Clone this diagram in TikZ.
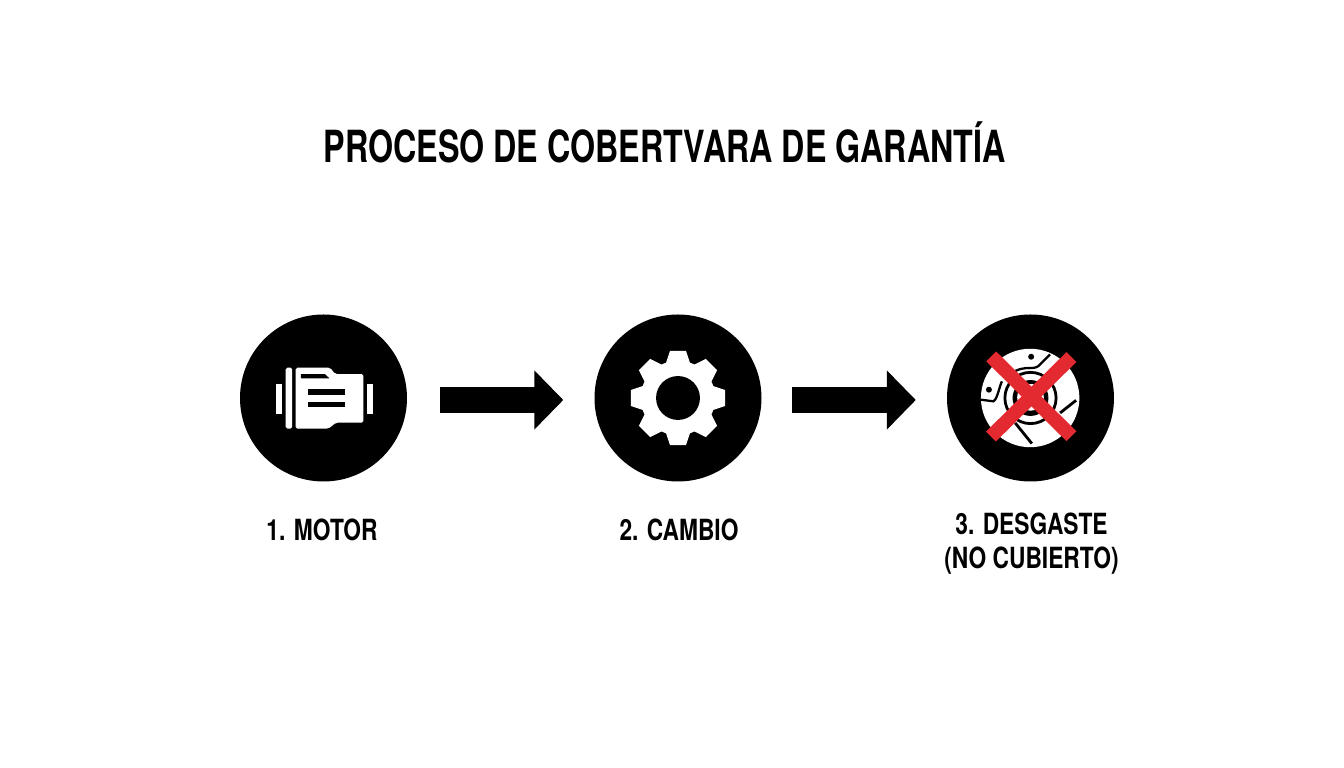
\documentclass[tikz,border=0pt]{standalone}
\usepackage{fontspec}
\usepackage{tikz}
\setmainfont{TeX Gyre Heros}
\usetikzlibrary{arrows.meta}
\definecolor{crossred}{HTML}{E32A30}
\tikzset{
  stepdisc/.style={circle,fill=black,minimum size=1.67cm,inner sep=0pt},
  steplabel/.style={font=\bfseries\fontsize{8.3}{9.7}\selectfont,align=center,xscale=0.78,transform shape},
  flowarrow/.style={line width=0.267cm,-{Triangle[length=0.29cm,width=0.575cm]}},
  icon/.style={x=0.003333cm,y=-0.003333cm}
}
\begin{document}
\begin{tikzpicture}
\useasboundingbox (0,0) rectangle (13.44,7.68);

\node[font=\bfseries\fontsize{12.6}{15}\selectfont,xscale=0.728,transform shape] (title) at (6.645,6.26) {PROCESO DE COBERTVARA DE GARANTÍA};

\node[stepdisc] (motor) at (3.235,3.70) {};
\node[stepdisc] (cambio) at (6.78,3.70) {};
\node[stepdisc] (desgaste) at (10.305,3.70) {};

\draw[flowarrow,shorten <=0.32cm,shorten >=0.305cm] ([yshift=-0.02cm]motor.east) -- ([yshift=-0.02cm]cambio.west);
\draw[flowarrow,shorten <=0.295cm,shorten >=0.305cm] ([yshift=-0.02cm]cambio.east) -- ([yshift=-0.02cm]desgaste.west);

\node[steplabel] (lmotor) at (3.22,2.38) {1. MOTOR};
\node[steplabel] (lcambio) at (6.79,2.38) {2. CAMBIO};
\node[steplabel] (ldesgaste) at (10.315,2.24) {3. DESGASTE\\(NO CUBIERTO)};

% motor
\begin{scope}[shift={(motor.center)},icon]
\fill[white] (-142,-43) rectangle (-124,48);
\fill[white,rounded corners=0.5pt] (-114,-91) rectangle (-94,92);
\fill[white,rounded corners=0.5pt] (-84,-91) -- (20,-91) -- (35,-72) -- (120,-72) -- (120,74) -- (38,74) -- (15,92) -- (-84,92) -- cycle;
\fill[white] (131,-43) rectangle (148,48);
\fill[black] (-68,-72) -- (4,-72) -- (18,-59) -- (-68,-59) -- cycle;
\fill[black] (-48,-26) rectangle (66,-10);
\fill[black] (-48,13) rectangle (66,28);
\end{scope}

% gear
\begin{scope}[shift={(cambio.center)},icon]
\fill[white] (0,0) circle (112);
\foreach \a in {0,45,...,315}
  \fill[white,rotate=\a] (-38,-100) -- (-24,-142) -- (24,-142) -- (38,-100) -- cycle;
\fill[black] (0,0) circle (66);
\end{scope}

% brake disc
\begin{scope}[shift={(desgaste.center)},icon]
\fill[white] (-1,0) circle (148);
\fill[black] (2,-124) circle (9);
\fill[black] (-125,-25) circle (9);
\draw[black,line width=0.65pt] (59,-131) -- (24,-96) .. controls (14,-88) and (-5,-90) .. (-12,-90) .. controls (-30,-88) and (-40,-85) .. (-50,-78);
\draw[black,line width=0.65pt] (-150,5) -- (-112,10) .. controls (-100,5) and (-95,-30) .. (-86,-50);
\draw[black,line width=0.8pt] (0,0) circle (77);
\fill[black] (0,0) circle (54);
\fill[white] (0,-2) circle (40);
\draw[black,line width=0.8pt] (-46,75) -- (4,137);
\draw[black,line width=0.8pt] (89,45) -- (137,7);
\draw[crossred,line width=0.14cm] (-118,-125) -- (123,115);
\draw[crossred,line width=0.14cm] (123,-123) -- (-119,116);
\end{scope}

\end{tikzpicture}
\end{document}
